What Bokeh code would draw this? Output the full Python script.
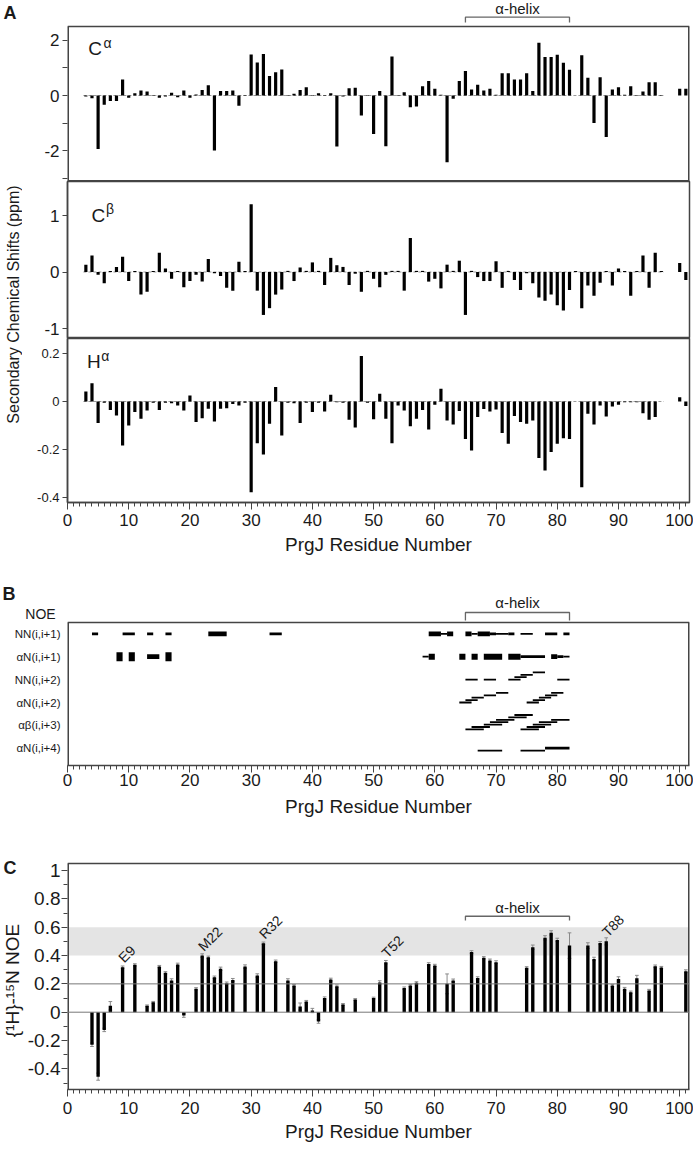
import math
from bokeh.plotting import figure
from bokeh.models import Range1d, FixedTicker, Span, BoxAnnotation, CustomJSTickFormatter
from bokeh.layouts import column, row
from bokeh.core.properties import value
from bokeh.embed import file_html
from bokeh.resources import INLINE

# ---------------------------------------------------------------- data
res_main = list(range(3, 98)) + [100, 101]

ca_shift = [-0.04, -0.10, -1.93, -0.33, -0.20, -0.20, 0.58, -0.08, 0.08, 0.18,
            0.14, 0.02, -0.08, -0.04, 0.10, -0.06, 0.18, -0.08, 0.04, 0.20,
            0.37, -1.99, 0.16, 0.16, 0.18, -0.37, 0.02, 1.48, 1.19, 1.50,
            0.70, 0.84, 0.94, 0.02, 0.06, 0.20, 0.30, 0.02, 0.08, 0.02,
            0.08, -1.84, -0.04, 0.26, 0.28, -0.72, 0.02, -1.39, 0.16, -1.83,
            1.41, 0.02, 0.12, -0.42, -0.40, 0.33, 0.52, 0.24, 0.03, -2.41,
            -0.12, 0.52, 0.88, 0.22, 0.39, 0.18, 0.24, 0.03, 0.80, 0.80,
            0.58, 0.58, 0.80, 0.16, 1.90, 1.39, 1.39, 1.47, 1.18, 0.93,
            0.00, 1.45, 0.64, -0.99, 0.66, -1.50, 0.22, 0.30, 0.03, 0.33,
            0.02, 0.14, 0.48, 0.48, 0.02,
            0.24, 0.24]

cb_shift = [0.13, 0.29, -0.05, -0.20, 0.02, 0.09, 0.27, -0.16, 0.02, -0.40,
            -0.35, 0.02, 0.34, 0.06, -0.12, 0.02, -0.27, -0.16, -0.05, -0.17,
            0.23, -0.02, -0.07, -0.28, -0.33, 0.18, 0.02, 1.20, -0.33, -0.76,
            -0.64, -0.40, -0.31, 0.02, -0.16, 0.08, 0.02, 0.17, 0.02, -0.23,
            0.25, 0.12, 0.09, -0.23, -0.03, -0.35, 0.02, -0.12, -0.27, -0.05,
            0.02, 0.02, -0.33, 0.60, 0.02, 0.02, -0.17, -0.12, -0.29, 0.13,
            0.02, 0.20, -0.76, 0.02, -0.09, -0.16, -0.16, 0.19, -0.28, 0.02,
            -0.14, -0.32, -0.02, -0.20, -0.45, -0.51, -0.40, -0.59, -0.68, -0.32,
            0.02, -0.64, -0.24, -0.42, -0.19, 0.02, -0.24, 0.06, 0.02, -0.42,
            0.02, 0.29, -0.28, 0.34, 0.02,
            0.16, -0.14]

ha_shift = [0.042, 0.076, -0.090, -0.005, -0.035, -0.058, -0.183, -0.100, -0.044, -0.072,
            -0.038, -0.005, -0.035, -0.005, -0.007, -0.017, -0.038, 0.025, -0.086, -0.070,
            -0.030, -0.083, -0.030, -0.028, -0.010, -0.017, -0.005, -0.378, -0.174, -0.221,
            -0.093, 0.060, -0.142, -0.005, -0.007, -0.090, -0.005, -0.044, -0.005, -0.042,
            0.028, -0.003, -0.005, -0.076, -0.108, 0.190, -0.005, -0.074, 0.032, -0.072,
            -0.174, -0.017, -0.038, -0.103, -0.072, -0.035, -0.117, -0.014, 0.053, -0.079,
            -0.096, -0.040, -0.156, -0.204, -0.065, -0.031, -0.042, -0.033, -0.131, -0.176,
            -0.061, -0.086, -0.093, -0.079, -0.236, -0.288, -0.211, -0.176, -0.153, -0.156,
            0.000, -0.357, -0.051, -0.096, -0.017, -0.063, -0.021, -0.014, -0.003, -0.003,
            -0.003, -0.049, -0.076, -0.065, 0.000,
            0.018, -0.019]

noe_res = [4, 5, 6, 7, 9, 11, 13, 14, 15, 16, 17, 18, 19, 21, 22, 23, 24, 25, 26, 27,
           29, 31, 32, 34, 36, 37, 38, 39, 40, 41, 42, 43, 44, 45, 47, 50, 51, 52, 55, 56,
           57, 59, 60, 62, 63, 66, 67, 68, 69, 70, 75, 76, 78, 79, 80, 82, 85, 86, 87, 88,
           89, 90, 91, 92, 93, 95, 96, 97, 101]
noe_val = [-0.23, -0.455, -0.125, 0.045, 0.318, 0.334, 0.045, 0.07, 0.322, 0.278,
           0.224, 0.336, -0.024, 0.165, 0.40, 0.388, 0.247, 0.306, 0.205, 0.228,
           0.322, 0.259, 0.487, 0.36, 0.224, 0.188, 0.04, 0.075, 0.012, -0.066,
           0.10, 0.23, 0.184, 0.055, 0.09, 0.10, 0.21, 0.353, 0.17, 0.188,
           0.207, 0.341, 0.33, 0.20, 0.224, 0.424, 0.242, 0.384, 0.365, 0.353,
           0.313, 0.459, 0.525, 0.56, 0.51, 0.47, 0.47, 0.376, 0.489, 0.50,
           0.188, 0.235, 0.165, 0.141, 0.24, 0.153, 0.325, 0.315, 0.289]
noe_err = [0.012, 0.025, 0.012, 0.03, 0.008, 0.008, 0.006, 0.006, 0.008, 0.008,
           0.012, 0.01, 0.012, 0.008, 0.012, 0.008, 0.008, 0.012, 0.008, 0.01,
           0.012, 0.012, 0.008, 0.008, 0.012, 0.008, 0.025, 0.008, 0.015, 0.012,
           0.008, 0.01, 0.008, 0.006, 0.006, 0.006, 0.012, 0.012, 0.008, 0.008,
           0.008, 0.008, 0.008, 0.07, 0.01, 0.01, 0.008, 0.008, 0.01, 0.01,
           0.008, 0.015, 0.015, 0.015, 0.012, 0.09, 0.02, 0.012, 0.01, 0.025,
           0.008, 0.015, 0.01, 0.008, 0.02, 0.008, 0.008, 0.008, 0.01]

label_res = [9, 22, 32, 52, 88]
label_txt = ["E9", "M22", "R32", "T52", "T88"]

helix = (65, 82)

noe_rows = ["NN(i,i+1)", "\u03b1N(i,i+1)", "NN(i,i+2)", "\u03b1N(i,i+2)", "\u03b1\u03b2(i,i+3)", "\u03b1N(i,i+4)"]
# (residue i, residue j, intensity class, stagger level)
nn_i1 = [(4, 5, 2, 0), (9, 11, 2, 0), (13, 14, 2, 0), (16, 17, 2, 0), (23, 26, 3, 0), (33, 35, 2, 0),
         (59, 61, 3, 0), (61, 62, 1, 0), (62, 63, 3, 0), (65, 66, 3, 0), (66, 67, 1, 0), (67, 69, 3, 0),
         (69, 70, 2, 0), (70, 72, 1, 0), (72, 73, 2, 0), (74, 76, 1, 0), (78, 80, 2, 0), (81, 82, 2, 0)]
an_i1 = [(8, 9, 5, 0), (10, 11, 5, 0), (13, 15, 3, 0), (16, 17, 5, 0),
         (58, 59, 1, 0), (59, 60, 4, 0), (64, 65, 4, 0), (66, 67, 4, 0), (68, 71, 4, 0), (72, 74, 4, 0),
         (74, 78, 2, 0), (79, 80, 3, 0), (80, 81, 2, 0), (81, 82, 1, 0)]
nn_i2 = [(65, 67, 1, 0), (68, 70, 1, 0), (72, 74, 1, 0), (73, 75, 1, 1), (74, 76, 1, 2), (76, 78, 1, 3),
         (80, 82, 1, 0)]
an_i2 = [(64, 66, 1, 0), (65, 67, 1, 1), (66, 68, 1, 2), (68, 70, 1, 3), (70, 72, 1, 4),
         (75, 77, 1, 0), (76, 78, 1, 1), (77, 79, 1, 2), (78, 80, 1, 3), (79, 81, 1, 4)]
ab_i3 = [(65, 68, 1, 0), (66, 69, 1, 1), (68, 71, 1, 2), (69, 72, 1, 3), (70, 73, 1, 4), (72, 75, 1, 5),
         (73, 76, 1, 6), (74, 77, 1, 0), (75, 78, 1, 1), (76, 79, 1, 2), (77, 80, 1, 3), (79, 82, 1, 4)]
an_i4 = [(67, 71, 1, 0), (74, 78, 1, 0), (78, 82, 2, 1)]
noe_segments = [nn_i1, an_i1, nn_i2, an_i2, ab_i3, an_i4]

# ---------------------------------------------------------------- style
FONT = "Liberation Sans"
INK = "#1a1a1a"
FRAME = "#444444"
W_TOTAL = 693
FRAME_L = 67
FRAME_R = 4
X_RANGE = (0, 101.6)
LW = {1: 1.8, 2: 2.8, 3: 4.7, 4: 6.0, 5: 9.0}
ROW_BASE_PX = [0, 0, 0, 0, 4, 2.3]
ROW_STEP_PX = 2.4
ROW_PX = 22.9

# row layout (pixels from the top of the page)
A_BOTTOM = 62           # bottom border under the H-alpha frame
B_TOP, B_FRAME_BOTTOM, B_BOTTOM = 564, 765, 64
C_TOP, C_FRAME_BOTTOM, C_BOTTOM = 829, 1089, 60


def ca_v(py):
    return (95.0 - py) / 27.7


def b_v(py):
    return 1.0 + (py - 633.3) / ROW_PX


def c_v(py):
    return (1011.7 - py) / 141.7


fmt = CustomJSTickFormatter(code="return String(Math.round(tick*10)/10);")


def base_fig(width, height, xr, yr, left, right, top, bottom, xaxis=None, yaxis=None):
    p = figure(width=width, height=height, x_range=xr, y_range=yr,
               output_backend="svg", toolbar_location=None, tools="",
               x_axis_location=xaxis, y_axis_location=yaxis, title=None,
               min_border_left=left, min_border_right=right,
               min_border_top=top, min_border_bottom=bottom)
    p.grid.visible = False
    p.outline_line_color = FRAME
    p.outline_line_width = 1.5
    p.background_fill_color = "white"
    p.border_fill_color = "white"
    return p


def side_fig(width, height, yr, bottom):
    p = base_fig(width, height, Range1d(0, width), yr, 0, 0, 0, bottom)
    p.outline_line_color = None
    return p


def style_axis(ax, size):
    ax.axis_line_color = FRAME
    ax.axis_line_width = 1.5
    ax.major_tick_line_color = FRAME
    ax.minor_tick_line_color = FRAME
    ax.major_tick_in = 0
    ax.minor_tick_in = 0
    ax.major_label_text_font = FONT
    ax.major_label_text_font_size = size
    ax.major_label_text_color = INK
    ax.axis_label_text_font = FONT
    ax.axis_label_text_font_style = "normal"
    ax.axis_label_text_color = INK


def txt(p, x, y, s, size, align="left", baseline="middle", angle=0.0, bold=False, color=INK):
    p.text(x=[x], y=[y], text=[s], text_font=value(FONT), text_font_size=size,
           text_align=align, text_baseline=baseline, angle=angle,
           text_font_style="bold" if bold else "normal", text_color=color)


def box_lines(p, y_low, y_top, bottom_line=False):
    x0, x1 = X_RANGE
    p.line(x=[x0, x0], y=[y_low, y_top], line_color=FRAME, line_width=3)
    p.line(x=[x1, x1], y=[y_low, y_top], line_color=FRAME, line_width=3)
    p.line(x=[x0, x1], y=[y_top, y_top], line_color=FRAME, line_width=1.5)
    if bottom_line:
        p.line(x=[x0, x1], y=[y_low, y_low], line_color=FRAME, line_width=3)


def bracket(p, y_line, y_end, y_text, size):
    p.line(x=[helix[0], helix[0], helix[1], helix[1]], y=[y_end, y_line, y_line, y_end],
           line_color="#666666", line_width=1.3)
    txt(p, (helix[0] + helix[1]) / 2, y_text, "\u03b1-helix", size, align="center")


def x_axis_residue(p, size, standoff, label_standoff):
    ax = p.xaxis[0]
    ax.ticker = FixedTicker(ticks=list(range(0, 101, 10)), minor_ticks=list(range(0, 102)))
    ax.formatter = fmt
    style_axis(ax, size)
    ax.major_tick_out = 7
    ax.minor_tick_out = 4
    ax.major_label_standoff = standoff
    ax.axis_label = "PrgJ Residue Number"
    ax.axis_label_text_font_size = "19px"
    ax.axis_label_standoff = label_standoff


# ---------------------------------------------------------------- panel A
YLA_W = 22
ylabA = side_fig(YLA_W, 502 + A_BOTTOM, Range1d(-502, 0), A_BOTTOM)
txt(ylabA, 3, -12, "A", "18px", bold=True)
txt(ylabA, 13, -304, "Secondary Chemical Shifts (ppm)", "16px", align="center", angle=math.pi / 2)

COLW = W_TOTAL - YLA_W


def shift_panel(height, yr, top, bottom, vals, ticks, minor, tick_size, show_x, lab, sup, lx, ly, sx, sy):
    p = base_fig(COLW, height, Range1d(*X_RANGE), Range1d(*yr), FRAME_L - YLA_W, FRAME_R, top, bottom,
                 xaxis="below" if show_x else None, yaxis="left")
    ax = p.yaxis[0]
    ax.ticker = FixedTicker(ticks=ticks, minor_ticks=minor)
    ax.formatter = fmt
    style_axis(ax, tick_size)
    ax.major_tick_out = 5
    ax.minor_tick_out = 5
    ax.major_label_standoff = 3
    p.line(x=[res_main[0] - 0.4, 97.4], y=[0, 0], line_color="#9a9a9a", line_width=1, line_dash="3 2")
    p.vbar(x=res_main, top=vals, bottom=0, width=0.52, fill_color="black", line_color=None)
    txt(p, lx, ly, lab, "19px")
    txt(p, sx, sy, sup, "14px")
    return p


fca = shift_panel(181, (ca_v(181), ca_v(0)), 0, 0, ca_shift, [-2, 0, 2], [-3, -1, 1], "17px", False,
                  "C", "\u03b1", 3.4, 1.70, 5.9, 1.89)
fca.outline_line_color = None
fca.yaxis[0].axis_line_color = None
box_lines(fca, ca_v(181), ca_v(26), bottom_line=True)
bracket(fca, ca_v(16.7), ca_v(22), ca_v(8), "15px")

fcb = shift_panel(157, (-1.177, 1.602), 0, 0, cb_shift, [-1, 0, 1], [], "17px", False,
                  "C", "\u03b2", 3.9, 1.0, 6.3, 1.12)
fha = shift_panel(164 + A_BOTTOM, (-0.421, 0.2625), 0, A_BOTTOM, ha_shift, [-0.4, -0.2, 0, 0.2], [],
                  "13px", True, "H", "\u03b1", 3.2, 0.167, 5.5, 0.19)
x_axis_residue(fha, "17px", 4, 5)

# ---------------------------------------------------------------- panel B
YLB_W = 61
B_H = B_FRAME_BOTTOM - B_TOP + B_BOTTOM
yrB = (b_v(B_FRAME_BOTTOM), b_v(B_TOP))
ylabB = side_fig(YLB_W, B_H, Range1d(*yrB), B_BOTTOM)
txt(ylabB, 2, b_v(593), "B", "18px", bold=True)
txt(ylabB, 40, b_v(613), "NOE", "14px", align="center")
for i, lab in enumerate(noe_rows):
    txt(ylabB, YLB_W - 1, i + 1, lab, "11.5px", align="right")

fb = base_fig(W_TOTAL - YLB_W, B_H, Range1d(*X_RANGE), Range1d(*yrB), FRAME_L - YLB_W, FRAME_R,
              0, B_BOTTOM, xaxis="below", yaxis=None)
fb.outline_line_color = None
x_axis_residue(fb, "17px", 1, 7)
box_lines(fb, yrB[0], b_v(622))
bracket(fb, b_v(612), b_v(620), b_v(602), "15px")

for r, segs in enumerate(noe_segments):
    for (i, j, cls, lev) in segs:
        yy = r + 1 + (ROW_BASE_PX[r] - lev * ROW_STEP_PX) / ROW_PX
        fb.segment(x0=[i], y0=[yy], x1=[j], y1=[yy], line_color="black",
                   line_width=LW[cls], line_cap="butt")

# ---------------------------------------------------------------- panel C
YLC_W = 24
C_H = C_FRAME_BOTTOM - C_TOP + C_BOTTOM
ylabC = side_fig(YLC_W, C_H, Range1d(-C_FRAME_BOTTOM, -C_TOP), C_BOTTOM)
txt(ylabC, 3, -867, "C", "18px", bold=True)
txt(ylabC, 12, -980, "{\u00b9H}-\u00b9\u2075N NOE", "19px", align="center", angle=math.pi / 2)

yrC = (c_v(C_FRAME_BOTTOM), c_v(C_TOP))
fc = base_fig(W_TOTAL - YLC_W, C_H, Range1d(*X_RANGE), Range1d(*yrC), FRAME_L - YLC_W, FRAME_R,
              0, C_BOTTOM, xaxis="below", yaxis="left")
fc.outline_line_color = None
yc = fc.yaxis[0]
yc.ticker = FixedTicker(ticks=[-0.4, -0.2, 0, 0.2, 0.4, 0.6, 0.8, 1.0],
                        minor_ticks=[-0.5, -0.3, -0.1, 0.1, 0.3, 0.5, 0.7, 0.9])
yc.formatter = fmt
style_axis(yc, "19px")
yc.axis_line_color = None
yc.major_tick_out = 6
yc.minor_tick_out = 4
yc.major_label_standoff = 1
x_axis_residue(fc, "17px", 5, 4)

fc.add_layout(BoxAnnotation(bottom=0.4, top=0.6, fill_color="#e4e4e4", fill_alpha=1.0,
                            line_color=None, level="underlay"))
fc.add_layout(Span(location=0.2, dimension="width", line_color="#777777", line_width=1))
fc.add_layout(Span(location=0.0, dimension="width", line_color="#777777", line_width=1))
box_lines(fc, yrC[0], c_v(863))

e_lo = [v - e for v, e in zip(noe_val, noe_err)]
e_hi = [v + e for v, e in zip(noe_val, noe_err)]
fc.segment(x0=noe_res, y0=e_lo, x1=noe_res, y1=e_hi, line_color="#8a8a8a", line_width=1)
cap_x0 = [r - 0.3 for r in noe_res]
cap_x1 = [r + 0.3 for r in noe_res]
fc.segment(x0=cap_x0, y0=e_hi, x1=cap_x1, y1=e_hi, line_color="#8a8a8a", line_width=1)
fc.segment(x0=cap_x0, y0=e_lo, x1=cap_x1, y1=e_lo, line_color="#8a8a8a", line_width=1)
fc.vbar(x=noe_res, top=noe_val, bottom=0, width=0.55, fill_color="black", line_color=None)

lab_top = [noe_val[noe_res.index(r)] for r in label_res]
fc.text(x=[r - 0.3 for r in label_res], y=[t + 0.05 for t in lab_top], text=label_txt,
        text_font=value(FONT), text_font_size="14px", text_align="left",
        text_baseline="alphabetic", angle=math.pi / 4, text_color=INK)

fc.line(x=[helix[0], helix[0], helix[1], helix[1]], y=[0.648, 0.677, 0.677, 0.648],
        line_color="#666666", line_width=1.3)
txt(fc, (helix[0] + helix[1]) / 2, 0.741, "\u03b1-helix", "15px", align="center")

# ---------------------------------------------------------------- layout
layout = column(
    row(ylabA, column(fca, fcb, fha, spacing=0), spacing=0),
    row(ylabB, fb, spacing=0),
    row(ylabC, fc, spacing=0),
    spacing=0,
)

open("out.html", "w").write(file_html(layout, INLINE))
